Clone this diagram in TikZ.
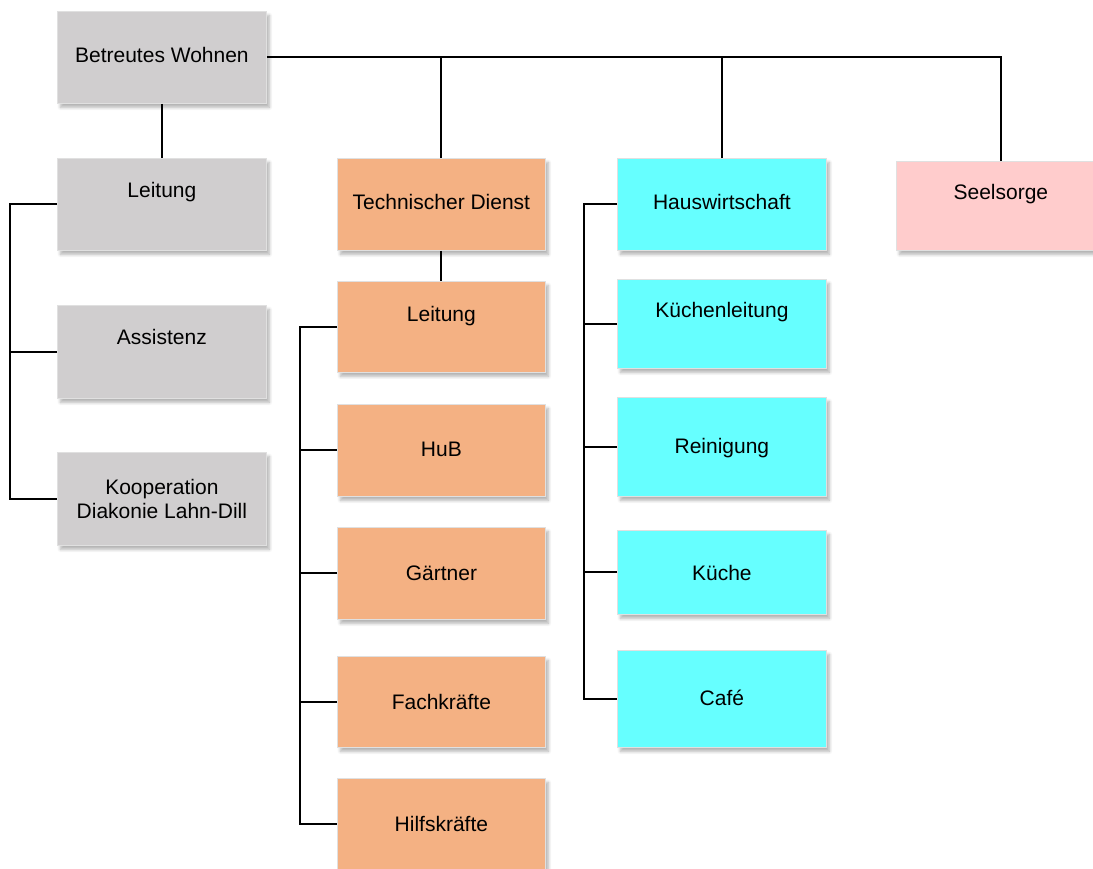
\documentclass[tikz,border=0pt]{standalone}
\usepackage{fontspec}
\setmainfont{Liberation Sans}
\usetikzlibrary{shadows.blur}
\definecolor{cgray}{HTML}{D0CECF}
\definecolor{corange}{HTML}{F4B183}
\definecolor{ccyan}{HTML}{66FFFF}
\definecolor{cpink}{HTML}{FFCCCC}
\begin{document}
\begin{tikzpicture}[x=1pt,y=-1pt,
  box/.style={draw=black!12, line width=0.8pt, inner sep=0pt, align=center,
    font=\fontsize{21}{23.5}\selectfont,
    blur shadow={shadow blur steps=6, shadow xshift=3pt, shadow yshift=-4pt, shadow opacity=30, shadow blur radius=3pt}},
  gbox/.style={box, fill=cgray, minimum width=209pt},
  obox/.style={box, fill=corange, minimum width=208pt},
  cbox/.style={box, fill=ccyan, minimum width=209pt},
  pbox/.style={box, fill=cpink, minimum width=209pt},
  conn/.style={line width=2pt, black}]
\useasboundingbox (0,0) rectangle (1093,868);

% gray column
\node[gbox, text height=51pt, text depth=41pt, anchor=north west] (bw) at (57,11) {Betreutes Wohnen};
\node[gbox, text height=39pt, text depth=53pt, anchor=north west] (gl) at (57,158) {Leitung};
\node[gbox, text height=39pt, text depth=54pt, anchor=north west] (ga) at (57,305) {Assistenz};
\node[gbox, minimum height=93pt, anchor=north west] (gk) at (57,452) {Kooperation\\Diakonie Lahn-Dill};

% orange column
\node[obox, text height=51pt, text depth=41pt, anchor=north west] (td) at (337,158) {Technischer Dienst};
\node[obox, text height=40pt, text depth=51pt, anchor=north west] (ol) at (337,281) {Leitung};
\node[obox, text height=52pt, text depth=40pt, anchor=north west] (hub) at (337,404) {HuB};
\node[obox, text height=53pt, text depth=39pt, anchor=north west] (gae) at (337,527) {Gärtner};
\node[obox, text height=53pt, text depth=38pt, anchor=north west] (fk) at (337,656) {Fachkräfte};
\node[obox, text height=53pt, text depth=39pt, anchor=north west] (hk) at (337,778) {Hilfskräfte};

% cyan column
\node[cbox, text height=51pt, text depth=41pt, anchor=north west] (hw) at (617,158) {Hauswirtschaft};
\node[cbox, text height=38pt, text depth=51pt, anchor=north west] (kl) at (617,279) {Küchenleitung};
\node[cbox, text height=56pt, text depth=43pt, anchor=north west] (rein) at (617,397) {Reinigung};
\node[cbox, text height=50pt, text depth=34pt, anchor=north west] (ku) at (617,530) {Küche};
\node[cbox, text height=55pt, text depth=42pt, anchor=north west] (cafe) at (617,650) {Café};

% pink
\node[pbox, text height=38pt, text depth=51pt, anchor=north west] (ss) at (896,161) {Seelsorge};

% bus coordinates
\coordinate (gbus) at (10,0);
\coordinate (obus) at (300,0);
\coordinate (cbus) at (584,0);

% top connectors
\draw[conn] (bw.east) -- (bw.east -| ss.north) -- (ss.north);
\draw[conn] (td.north) -- (td.north |- bw.east);
\draw[conn] (hw.north) -- (hw.north |- bw.east);
\draw[conn] (bw.south) -- (gl.north);
\draw[conn] (td.south) -- (ol.north);

% gray bus
\draw[conn] (gl.west) -- (gl.west -| gbus) -- (gk.west -| gbus) -- (gk.west);
\draw[conn] (ga.west) -- (ga.west -| gbus);

% orange bus
\draw[conn] (ol.west) -- (ol.west -| obus) -- (hk.west -| obus) -- (hk.west);
\draw[conn] (hub.west) -- (hub.west -| obus);
\draw[conn] (gae.west) -- (gae.west -| obus);
\draw[conn] (fk.west) -- (fk.west -| obus);

% cyan bus
\draw[conn] (hw.west) -- (hw.west -| cbus) -- (cafe.west -| cbus) -- (cafe.west);
\draw[conn] (kl.west) -- (kl.west -| cbus);
\draw[conn] (rein.west) -- (rein.west -| cbus);
\draw[conn] (ku.west) -- (ku.west -| cbus);
\end{tikzpicture}
\end{document}
